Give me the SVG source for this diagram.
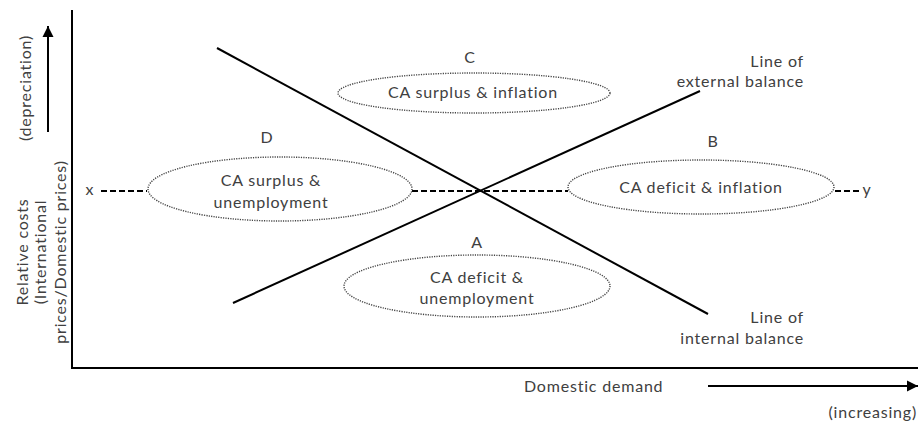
<svg xmlns="http://www.w3.org/2000/svg" width="921" height="423" viewBox="0 0 921 423">
<defs>
<marker id="ah" markerWidth="12" markerHeight="12" refX="11" refY="6" orient="auto" markerUnits="userSpaceOnUse"><path d="M0,0.5 L11,6 L0,11.5 Z" fill="#000"/></marker>
<style>
text{font-family:Lato,"Open Sans","Liberation Sans",sans-serif;font-size:16px;letter-spacing:0.8px;fill:#404040}
.m{text-anchor:middle}
.e{text-anchor:end}
.ell{fill:none;stroke:#444;stroke-width:1.4;stroke-dasharray:1.2 1.2}
.ln{stroke:#000;stroke-width:2;fill:none}
.dash{stroke:#000;stroke-width:2;stroke-dasharray:6 3;fill:none}
</style>
</defs>
<rect width="921" height="423" fill="#fff"/>
<g id="connectors">
<line class="ln" x1="72" y1="10" x2="72" y2="368"/>
<line class="ln" x1="71" y1="368" x2="918" y2="368"/>
<line class="ln" x1="48" y1="132" x2="48" y2="26" marker-end="url(#ah)"/>
<line class="ln" x1="708" y1="386" x2="918" y2="386" marker-end="url(#ah)"/>
<line class="dash" x1="101" y1="191" x2="147" y2="191"/>
<line class="dash" x1="412" y1="191" x2="568" y2="191"/>
<line class="dash" x1="835" y1="191" x2="860" y2="191"/>
<line class="ln" x1="217" y1="48" x2="708" y2="314"/>
<line class="ln" x1="233" y1="303" x2="700" y2="91"/>
</g>
<g id="axis-labels">
<text class="m" transform="translate(31,88) rotate(-90)">(depreciation)</text>
<text class="m" transform="translate(28,252) rotate(-90)">Relative costs</text>
<text class="m" transform="translate(46,252) rotate(-90)">(International</text>
<text class="m" transform="translate(66,252) rotate(-90)">prices/Domestic prices)</text>
<text x="524" y="392">Domestic demand</text>
<text class="e" x="917" y="418">(increasing)</text>
<text class="m" x="90" y="195">x</text>
<text class="m" x="867" y="195">y</text>
</g>
<g id="node-C">
<text class="m" x="470" y="63">C</text>
<ellipse class="ell" cx="474" cy="93" rx="136" ry="20"/>
<text class="m" x="473" y="98">CA surplus &amp; inflation</text>
</g>
<g id="node-D">
<text class="m" x="267" y="143">D</text>
<ellipse class="ell" cx="280" cy="189" rx="132" ry="32"/>
<text class="m" x="271" y="186">CA surplus &amp;</text>
<text class="m" x="271" y="208">unemployment</text>
</g>
<g id="node-B">
<text class="m" x="713" y="147">B</text>
<ellipse class="ell" cx="701" cy="187" rx="133" ry="27"/>
<text class="m" x="701" y="193">CA deficit &amp; inflation</text>
</g>
<g id="node-A">
<text class="m" x="477" y="248">A</text>
<ellipse class="ell" cx="477" cy="286" rx="133" ry="31"/>
<text class="m" x="477" y="283">CA deficit &amp;</text>
<text class="m" x="477" y="304">unemployment</text>
</g>
<g id="line-labels">
<text class="e" x="804" y="67">Line of</text>
<text class="e" x="804" y="87">external balance</text>
<text class="e" x="804" y="323">Line of</text>
<text class="e" x="804" y="344">internal balance</text>
</g>
</svg>
